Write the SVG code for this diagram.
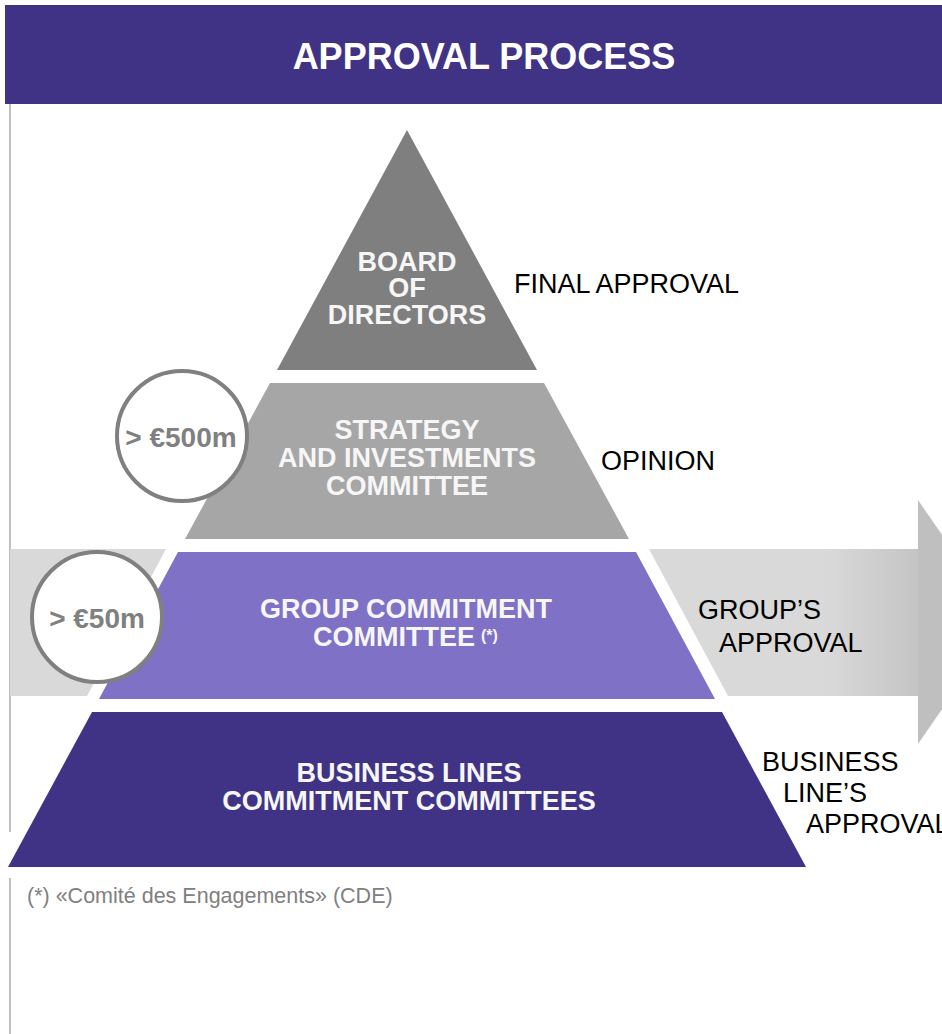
<svg xmlns="http://www.w3.org/2000/svg" width="942" height="1034" viewBox="0 0 942 1034">
  <defs>
    <linearGradient id="bandGrad" x1="0" y1="0" x2="1" y2="0">
      <stop offset="0" stop-color="#d9d9d9"/>
      <stop offset="0.9" stop-color="#d9d9d9"/>
      <stop offset="1" stop-color="#c4c4c4"/>
    </linearGradient>
    <style>
      .bold { font-family: "Liberation Sans", Arial, sans-serif; font-weight: bold; }
      .reg { font-family: "Liberation Sans", Arial, sans-serif; }
      .lvl { fill: #f6f6f6; font-size: 27px; text-anchor: middle; }
      .side { fill: #000000; font-size: 27px; }
      .circ { fill: #ffffff; stroke: #808080; stroke-width: 4; }
      .circtxt { fill: #808080; font-size: 28px; text-anchor: middle; }
      .rule { stroke: #bfbfbf; stroke-width: 2; fill: none; }
    </style>
  </defs>

  <rect x="0" y="0" width="942" height="1034" fill="#ffffff"/>

  <!-- left rule -->
  <line class="rule" x1="10" y1="104" x2="10" y2="832"/>
  <line class="rule" x1="10" y1="878" x2="10" y2="1034"/>

  <!-- header -->
  <g id="header">
    <rect x="5" y="5" width="937" height="99" fill="#403385"/>
    <text class="bold" x="484" y="69" font-size="36" fill="#ffffff" text-anchor="middle">APPROVAL PROCESS</text>
  </g>

  <!-- approval arrow band -->
  <g id="connectors">
    <rect x="10" y="549" width="909" height="147" fill="url(#bandGrad)"/>
    <polygon points="918,500 1002,622 918,744" fill="#bfbfbf"/>
    <polygon points="166,549 649,549 728,696 87,696" fill="#ffffff"/>
  </g>

  <g id="board-of-directors">
    <polygon points="407,130 537,370 277,370" fill="#7f7f7f"/>
    <text class="bold lvl" x="407" y="271" font-size="25">BOARD</text>
    <text class="bold lvl" x="407" y="297" font-size="25">OF</text>
    <text class="bold lvl" x="407" y="324" font-size="25">DIRECTORS</text>
    <text class="reg side" x="514" y="293">FINAL APPROVAL</text>
  </g>

  <g id="strategy-committee">
    <polygon points="270,383 544,383 629,539 185,539" fill="#a6a6a6"/>
    <text class="bold lvl" x="407" y="439">STRATEGY</text>
    <text class="bold lvl" x="407" y="467">AND INVESTMENTS</text>
    <text class="bold lvl" x="407" y="495">COMMITTEE</text>
    <text class="reg side" x="601" y="470">OPINION</text>
  </g>

  <g id="group-commitment-committee">
    <polygon points="178,552 636,552 715,699 99,699" fill="#7e71c6"/>
    <text class="bold lvl" x="406" y="618" font-size="28">GROUP COMMITMENT</text>
    <text class="bold lvl" x="394" y="646" font-size="28">COMMITTEE</text>
    <text class="bold" x="481" y="641" font-size="16" fill="#f6f6f6">(*)</text>
    <text class="reg side" x="698" y="619">GROUP’S</text>
    <text class="reg side" x="719" y="652">APPROVAL</text>
  </g>

  <g id="business-lines-committees">
    <polygon points="92,712 722,712 806,867 8,867" fill="#403385"/>
    <text class="bold lvl" x="409" y="782" font-size="28">BUSINESS LINES</text>
    <text class="bold lvl" x="409" y="810" font-size="28">COMMITMENT COMMITTEES</text>
    <text class="reg side" x="762" y="771">BUSINESS</text>
    <text class="reg side" x="783" y="802">LINE’S</text>
    <text class="reg side" x="806" y="833">APPROVAL</text>
  </g>

  <g id="threshold-500m">
    <circle class="circ" cx="182" cy="436" r="65"/>
    <text class="bold circtxt" x="181" y="447">&gt; €500m</text>
  </g>

  <g id="threshold-50m">
    <circle class="circ" cx="97" cy="617" r="65"/>
    <text class="bold circtxt" x="97" y="628">&gt; €50m</text>
  </g>

  <g id="footnote">
    <text class="reg" x="27" y="903" font-size="21.5" fill="#808080">(*) «Comité des Engagements» (CDE)</text>
  </g>
</svg>
